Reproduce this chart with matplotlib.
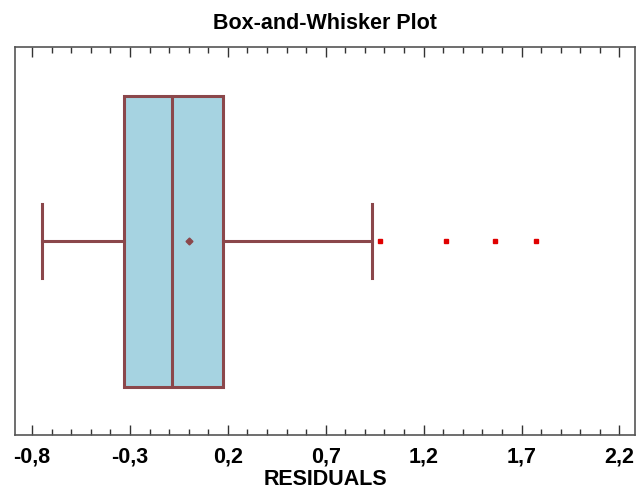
import matplotlib.pyplot as plt
from matplotlib.ticker import MultipleLocator, FuncFormatter

# Residual summary
whisker_low = -0.75
q1 = -0.33
median = -0.085
mean = 0.0
q3 = 0.177
whisker_high = 0.938
outliers = [0.975, 1.313, 1.566, 1.776]

box_edge = '#8B474B'
box_fill = '#A6D3E1'

plt.rcParams['font.family'] = ['Liberation Sans', 'DejaVu Sans']

fig = plt.figure(figsize=(6.38, 4.95), dpi=100)
ax = fig.add_axes([0.0235, 0.1212, 0.972, 0.7838])

stats = [{
    'whislo': whisker_low, 'q1': q1, 'med': median, 'mean': mean,
    'q3': q3, 'whishi': whisker_high, 'fliers': outliers,
}]

ax.bxp(stats, positions=[1], widths=0.75, vert=False, showmeans=True,
       patch_artist=True, capwidths=[0.19],
       boxprops=dict(facecolor=box_fill, edgecolor=box_edge, linewidth=2.2),
       medianprops=dict(color=box_edge, linewidth=2.2),
       whiskerprops=dict(color=box_edge, linewidth=2.2),
       capprops=dict(color=box_edge, linewidth=2.2),
       meanprops=dict(marker='D', markersize=3.5, markerfacecolor=box_edge,
                      markeredgecolor=box_edge),
       flierprops=dict(marker='s', markersize=3.5, markerfacecolor='#E00000',
                       markeredgecolor='#E00000', linestyle='none'))

ax.set_xlim(-0.887, 2.28)
ax.set_ylim(0.5, 1.5)
ax.set_yticks([])

ax.xaxis.set_major_locator(MultipleLocator(0.5, offset=0.2))
ax.xaxis.set_minor_locator(MultipleLocator(0.1))
ax.xaxis.set_major_formatter(FuncFormatter(lambda v, p: f'{v:.1f}'.replace('.', ',')))
ax.tick_params(axis='x', which='both', direction='in', top=True, color='#333333')
ax.tick_params(axis='x', which='major', length=7, width=1, pad=8, labelsize=15.5)
ax.tick_params(axis='x', which='minor', length=4, width=1)
for lab in ax.get_xticklabels():
    lab.set_fontweight('bold')

for s in ax.spines.values():
    s.set_color('#555555')
    s.set_linewidth(1.2)

ax.set_xlabel('RESIDUALS', fontsize=15.5, fontweight='bold', labelpad=1)
ax.set_title('Box-and-Whisker Plot', fontsize=15.5, fontweight='bold', pad=13)

fig.savefig('out.png', dpi=100)
